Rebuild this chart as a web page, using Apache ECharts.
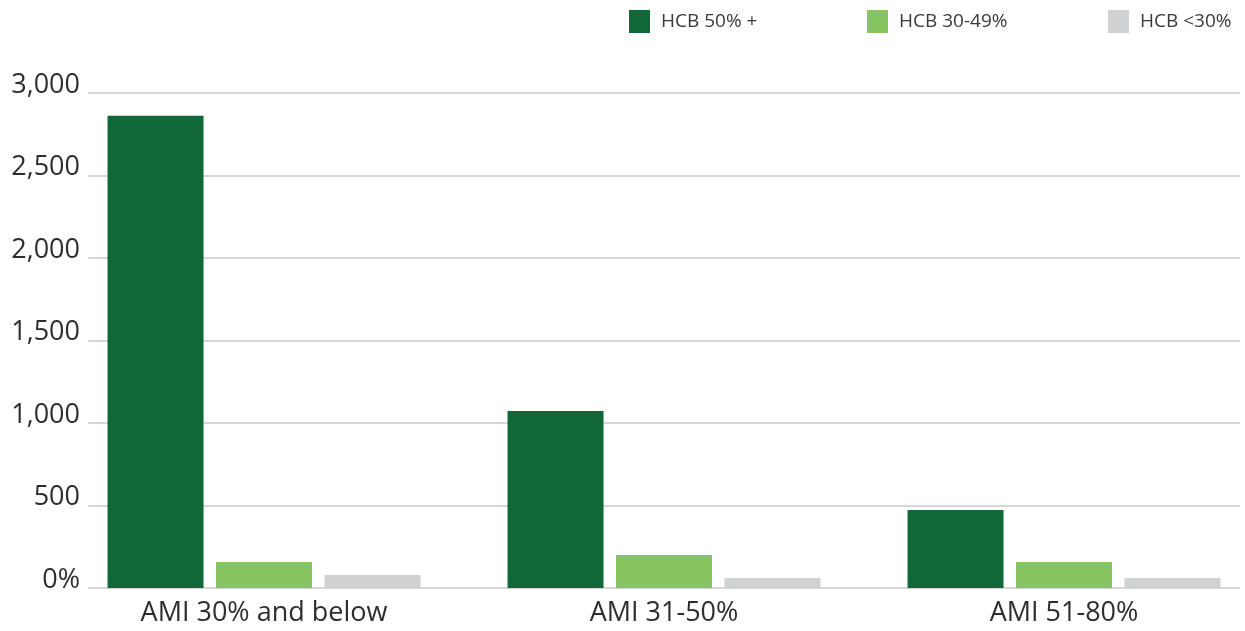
<!DOCTYPE html>
<html><head><meta charset="utf-8">
<script src="https://cdn.jsdelivr.net/npm/echarts@6/dist/echarts.min.js"></script>
<style>html,body{margin:0;padding:0;background:#fff}#c{width:1245px;height:631px}</style>
</head><body><div id="c"></div>
<script>
const categories = ['AMI 30% and below', 'AMI 31-50%', 'AMI 51-80%'];
const seriesNames = ['HCB 50% +', 'HCB 30-49%', 'HCB <30%'];
const hcb50 = [2862, 1073, 473];
const hcb30 = [158, 200, 158];
const hcbLow = [79, 61, 61];
const yTicks = [0, 500, 1000, 1500, 2000, 2500, 3000];

const colors = ['#106838', '#86C55F', '#D0D1D3'];
const font = '"Open Sans", "Noto Sans", sans-serif';
const chart = echarts.init(document.getElementById('c'), null, {renderer: 'canvas'});
const fmt = v => v === 0 ? '0%' : v.toLocaleString('en-US');
const legendPos = [624, 862, 1103];
const opt = {
  animation: false,
  backgroundColor: '#fff',
  legend: seriesNames.map((n, i) => ({
    data: [n], left: legendPos[i], top: 5, itemWidth: 21, itemHeight: 23, itemGap: 0,
    icon: 'rect', textStyle: {fontFamily: font, fontSize: 19, color: '#3a3a3a', padding: [0,0,0,6]}
  })),
  grid: [
    {left: 88, right: 5, top: 93, bottom: 43, outerBoundsMode: 'none'},
    {left: 64, width: 1200, top: 93, bottom: 43, outerBoundsMode: 'none'}
  ],
  xAxis: [
    {gridIndex: 0, type: 'value', show: false, min: 0, max: 1},
    {gridIndex: 1, type: 'category', data: categories,
     axisLine: {show: false}, axisTick: {show: false},
     axisLabel: {fontFamily: font, fontSize: 27, color: '#2e2e2e', margin: 12}}
  ],
  yAxis: [
    {gridIndex: 0, type: 'value', min: 0, max: 3000, interval: 500,
     axisLine: {show: false}, axisTick: {show: false},
     splitLine: {lineStyle: {color: '#c8c8c8', width: 1.5}},
     axisLabel: {fontFamily: font, fontSize: 27, color: '#2e2e2e', margin: 8,
       verticalAlign: 'bottom', lineHeight: 16, formatter: fmt,
       customValues: yTicks}},
    {gridIndex: 1, type: 'value', min: 0, max: 3000, interval: 500, show: false, splitLine: {show: false}}
  ],
  series: [hcb50, hcb30, hcbLow].map((d, i) => ({
    name: seriesNames[i], type: 'bar', xAxisIndex: 1, yAxisIndex: 1,
    data: d, barWidth: 96, barGap: '13%', itemStyle: {color: colors[i]}
  }))
};
chart.setOption(opt);
</script></body></html>
